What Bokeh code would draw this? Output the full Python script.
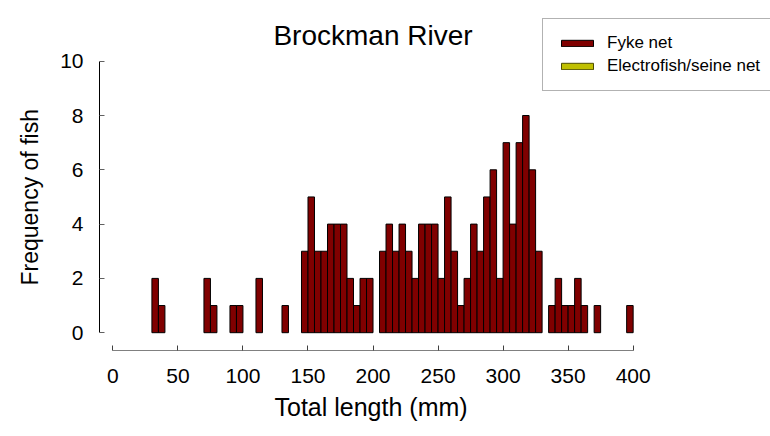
import numpy as np
from bokeh.plotting import figure
from bokeh.models import FixedTicker, Range1d, Legend, LegendItem, ColumnDataSource, Label, Title
from bokeh.embed import file_html
from bokeh.resources import INLINE

# ---- data (5 mm length classes, lower bound of each class) ----
bin_starts = [30, 35, 40, 45, 50, 55, 60, 65, 70, 75, 80, 85, 90, 95, 100, 105,
              110, 115, 120, 125, 130, 135, 140, 145, 150, 155, 160, 165, 170, 175,
              180, 185, 190, 195, 200, 205, 210, 215, 220, 225, 230, 235, 240, 245,
              250, 255, 260, 265, 270, 275, 280, 285, 290, 295, 300, 305, 310, 315,
              320, 325, 330, 335, 340, 345, 350, 355, 360, 365, 370, 375, 380, 385,
              390, 395]
fyke_counts = [2, 1, 0, 0, 0, 0, 0, 0, 2, 1, 0, 0, 1, 1, 0, 0,
               2, 0, 0, 0, 1, 0, 0, 3, 5, 3, 3, 4, 4, 4,
               2, 1, 2, 2, 0, 3, 4, 3, 4, 3, 2, 4, 4, 4,
               2, 5, 3, 1, 2, 4, 3, 5, 6, 2, 7, 4, 7, 8,
               6, 3, 0, 1, 2, 1, 1, 2, 1, 0, 1, 0, 0, 0,
               0, 1]
electro_counts = [0] * len(bin_starts)
bin_width = 5
x_ticks = [0, 50, 100, 150, 200, 250, 300, 350, 400]
y_ticks = [0, 2, 4, 6, 8, 10]
title_text = "Brockman River"
x_label = "Total length (mm)"
y_label = "Frequency of fish"
series_names = ["Fyke net", "Electrofish/seine net"]

FONT = "Liberation Sans"

def make_source(counts):
    c = np.array(counts, dtype=float)
    top = np.where(c > 0, c, np.nan)   # empty classes are not drawn
    x = np.array(bin_starts, dtype=float) + bin_width / 2
    return ColumnDataSource(dict(x=x, top=top))

p = figure(width=770, height=436, output_backend="svg", toolbar_location=None,
           title=None,
           x_range=Range1d(-10.3, 505.6), y_range=Range1d(-0.656, 12.236),
           min_border_left=99, min_border_right=0, min_border_top=0,
           min_border_bottom=86)

r_fyke = p.vbar(x="x", top="top", width=bin_width, bottom=0, source=make_source(fyke_counts),
                fill_color="#800000", line_color="#000000", line_width=1)
r_el = p.vbar(x="x", top="top", width=bin_width, bottom=0, source=make_source(electro_counts),
              fill_color="#bfbf00", line_color="#4d4d00", line_width=1)

p.xgrid.visible = False
p.ygrid.visible = False
p.outline_line_color = None

# chart title, centred over the 0-400 mm axis
p.add_layout(Label(x=200, y=10.947, text=title_text, text_align="center",
                   text_baseline="alphabetic", text_font=FONT, text_font_size="28px",
                   text_color="#000000"))

xa = p.xaxis[0]
xa.ticker = FixedTicker(ticks=x_ticks)
xa.bounds = (0, 400)
xa.major_tick_in = 5
xa.major_tick_out = 0
xa.minor_tick_line_color = None
xa.axis_line_color = "#808080"
xa.major_tick_line_color = "#404040"
xa.major_label_text_font = FONT
xa.major_label_text_font_size = "21px"
xa.major_label_text_color = "#000000"
xa.major_label_standoff = 18

ya = p.yaxis[0]
ya.ticker = FixedTicker(ticks=y_ticks)
ya.bounds = (0, 10)
ya.major_tick_in = 5
ya.major_tick_out = 0
ya.minor_tick_line_color = None
ya.axis_line_color = "#000000"
ya.major_tick_line_color = "#606060"
ya.major_label_text_font = FONT
ya.major_label_text_font_size = "21px"
ya.major_label_text_color = "#000000"
ya.major_label_standoff = 16

# axis titles placed in the side panels, positioned along the axis extents
xt = Title(text=x_label, align="left", offset=175, standoff=11,
           text_font=FONT, text_font_size="25px", text_font_style="normal",
           text_color="#000000")
p.add_layout(xt, "below")
yt = Title(text=y_label, align="left", offset=65, standoff=29,
           text_font=FONT, text_font_size="23px", text_font_style="normal",
           text_color="#000000")
p.add_layout(yt, "left")

legend = Legend(items=[LegendItem(label=series_names[0], renderers=[r_fyke]),
                       LegendItem(label=series_names[1], renderers=[r_el])],
                location=(443, 259))
legend.label_text_font = FONT
legend.label_text_font_size = "17px"
legend.label_text_color = "#000000"
legend.glyph_width = 40
legend.glyph_height = 8
legend.label_height = 20
legend.label_standoff = 10
legend.spacing = 3
legend.padding = 14
legend.margin = 0
legend.border_line_color = "#666666"
legend.border_line_width = 1
legend.background_fill_color = "#ffffff"
legend.background_fill_alpha = 1
p.add_layout(legend, "center")

open("out.html", "w").write(file_html(p, INLINE))
